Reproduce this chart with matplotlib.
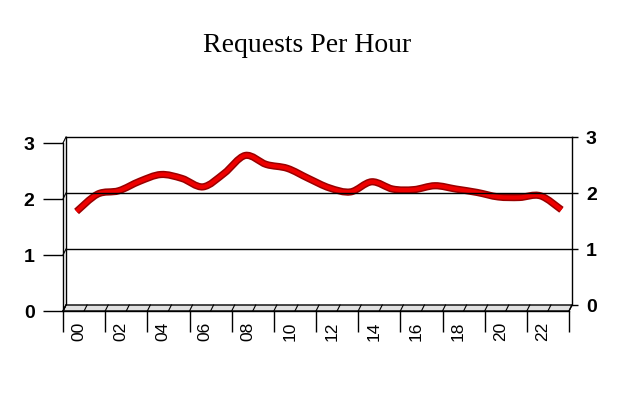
import numpy as np
import matplotlib
matplotlib.use("Agg")
import matplotlib.pyplot as plt
from matplotlib.path import Path
from matplotlib.patches import PathPatch, Polygon

hours = list(range(24))
hour_labels = ["%02d" % h for h in range(0, 24, 2)]
requests = [1.67, 1.98, 2.04, 2.21, 2.33, 2.26, 2.11, 2.35, 2.67, 2.51, 2.44, 2.26,
            2.09, 2.02, 2.20, 2.07, 2.06, 2.13, 2.07, 2.01, 1.93, 1.92, 1.95, 1.70]
y_ticks = [0, 1, 2, 3]

W, H = 620, 400
fig = plt.figure(figsize=(6.2, 4.0), dpi=100)
fig.patch.set_facecolor("white")

# back wall and front plane (3D look, offset 3px right / 6px up)
back = fig.add_axes([66 / W, 1 - 305 / H, 506 / W, 168 / H])
front = fig.add_axes([63 / W, 1 - 311 / H, 506 / W, 168 / H])
front.patch.set_alpha(0)
for ax in (back, front):
    ax.set_xlim(0, 24)
    ax.set_ylim(0, 3)

dx = 3 / (506 / 24)
dy = 6 / (168 / 3)

# back wall
back.set_facecolor("white")
for s in back.spines.values():
    s.set_linewidth(1.0)
back.spines["bottom"].set_visible(False)
back.set_xticks([])
back.yaxis.tick_right()
back.set_yticks(y_ticks)
back.set_yticklabels([str(v) for v in y_ticks], fontsize=14, fontweight="bold",
                     family="Liberation Sans")
back.tick_params(axis="y", direction="out", length=4, width=1, pad=6)
for v in y_ticks[1:-1]:
    back.axhline(v, color="black", lw=1.0)

# line, smoothed through the points
xs = np.array(hours) + 0.5
ys = np.array(requests)
P = np.column_stack([xs, ys])
Pext = np.vstack([P[0], P, P[-1]])
verts = [tuple(P[0])]
codes = [Path.MOVETO]
for i in range(len(P) - 1):
    p0, p1, p2, p3 = Pext[i], Pext[i + 1], Pext[i + 2], Pext[i + 3]
    c1 = p1 + (p2 - p0) / 6
    c2 = p2 - (p3 - p1) / 6
    verts += [tuple(c1), tuple(c2), tuple(p2)]
    codes += [Path.CURVE4] * 3
path = Path(verts, codes)
back.add_patch(PathPatch(path, fill=False, edgecolor="#990000", lw=5.2,
                         capstyle="butt", joinstyle="round"))
back.add_patch(PathPatch(path, fill=False, edgecolor="#ee0000", lw=3.0,
                         capstyle="butt", joinstyle="round"))

# front plane: left axis, floor, x labels
for k in ("top", "right"):
    front.spines[k].set_visible(False)
front.spines["left"].set_linewidth(1.0)
front.spines["bottom"].set_linewidth(1.0)
front.set_yticks(y_ticks)
front.set_yticklabels([str(v) for v in y_ticks], fontsize=14, fontweight="bold",
                      family="Liberation Sans")
front.tick_params(axis="y", direction="out", length=14.5, width=1, pad=6)

floor = Polygon([(0, 0), (24, 0), (24 + dx, dy), (dx, dy)], closed=True,
                facecolor="#e0e0e0", edgecolor="black", lw=1.0, clip_on=False)
front.add_patch(floor)
for h in range(25):
    front.plot([h, h + dx], [0, dy], color="black", lw=0.8, clip_on=False)
for v in y_ticks:
    front.plot([0, dx], [v, v + dy], color="black", lw=0.8, clip_on=False)

front.set_xticks(range(0, 25, 2))
front.set_xticklabels([])
front.tick_params(axis="x", which="major", direction="out", length=15, width=1)
front.set_xticks(np.arange(0, 24, 2) + 0.75, minor=True)
front.set_xticklabels(hour_labels, minor=True, rotation=90, fontsize=12.5,
                      family="Liberation Sans")
front.tick_params(axis="x", which="minor", length=0, pad=8)
for lab in front.get_xticklabels(minor=True):
    lab.set_va("top")

fig.text(0.496, 1 - 46 / H, "Requests Per Hour", ha="center", va="center",
         fontsize=20, family="Liberation Serif")

fig.savefig("out.png", dpi=100)
